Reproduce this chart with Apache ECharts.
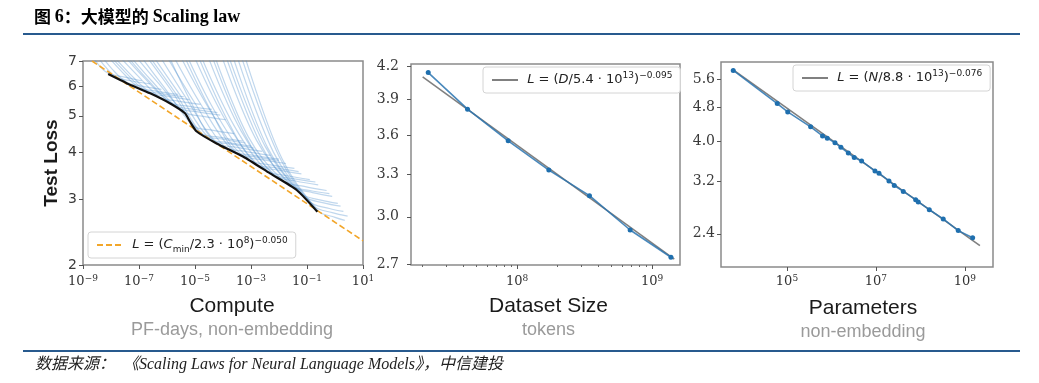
<!DOCTYPE html>
<html><head><meta charset="utf-8">
<script src="https://cdn.jsdelivr.net/npm/echarts@6/dist/echarts.min.js"></script>
<style>html,body{margin:0;padding:0;background:#fff}#c{width:1039px;height:383px}</style>
</head><body><div id="c"></div>
<script>
// ---------------- data ----------------
// Panel 1: Compute (PF-days) vs test loss
const computeTickExps = [-9, -7, -5, -3, -1, 1];
const computeLossTicks = [2, 3, 4, 5, 6, 7];
const frontierCompute = [7.94e-9, 3.63e-8, 2.51e-7, 1.26e-6, 4.37e-6, 6.61e-6, 1.15e-5, 5.89e-5, 5.37e-4, 4.79e-3, 4.27e-2, 2.34e-1];
const frontierLoss    = [6.46, 6.11, 5.74, 5.40, 5.08, 4.82, 4.54, 4.22, 3.89, 3.51, 3.17, 2.775];
const fitComputeX     = [2.1e-9, 10];
const fitComputeLoss  = [7.0, 2.32];
const learningCurves = [
  [[1.78e-9,7.4],[3.55e-9,6.85],[7.94e-9,6.49],[2.51e-8,6.36],[1.26e-7,6.2]],
  [[2.51e-9,7.4],[6.31e-9,6.75],[1.58e-8,6.33],[5.01e-8,6.2],[2.51e-7,6.08]],
  [[3.55e-9,7.4],[1.12e-8,6.65],[3.63e-8,6.14],[1.26e-7,6.0],[6.31e-7,5.88]],
  [[5.62e-9,7.4],[2.24e-8,6.6],[1e-7,5.95],[3.98e-7,5.82],[2.51e-6,5.7]],
  [[7.08e-9,7.4],[3.16e-8,6.55],[1.58e-7,5.86],[6.31e-7,5.73],[3.98e-6,5.62]],
  [[8.91e-9,7.4],[4.47e-8,6.5],[2.51e-7,5.77],[1e-6,5.64],[6.31e-6,5.52]],
  [[1.41e-8,7.4],[8.91e-8,6.4],[5.62e-7,5.6],[2.51e-6,5.47],[1.58e-5,5.36]],
  [[2.24e-8,7.4],[1.58e-7,6.3],[1.26e-6,5.43],[6.31e-6,5.3],[3.98e-5,5.2]],
  [[2.82e-8,7.4],[2e-7,6.25],[1.78e-6,5.34],[1e-5,5.2],[6.31e-5,5.1]],
  [[3.55e-8,7.4],[2.82e-7,6.2],[2.51e-6,5.25],[1.26e-5,5.12],[7.94e-5,5.02]],
  [[5.62e-8,7.4],[5.01e-7,6.1],[4.37e-6,5.11],[2e-5,4.98],[1.26e-4,4.88]],
  [[8.91e-8,7.4],[7.94e-7,5.95],[8.91e-6,4.7],[3.98e-5,4.58],[2.51e-4,4.48]],
  [[1.41e-7,7.4],[1.41e-6,5.85],[1.58e-5,4.5],[7.94e-5,4.38],[5.01e-4,4.28]],
  [[1.78e-7,7.4],[2e-6,5.75],[2e-5,4.44],[1e-4,4.33],[6.31e-4,4.23]],
  [[2.51e-7,7.4],[2.82e-6,5.7],[3.16e-5,4.36],[1.58e-4,4.24],[1e-3,4.15]],
  [[4.47e-7,7.4],[5.01e-6,5.55],[5.89e-5,4.24],[3.16e-4,4.12],[2.51e-3,4.02]],
  [[1e-6,7.4],[7.08e-6,5.45],[4.47e-5,4.3],[2e-4,4.2],[1.26e-3,4.1]],
  [[7.94e-7,7.4],[1e-5,5.4],[1.12e-4,4.14],[6.31e-4,4.02],[5.01e-3,3.92]],
  [[1.41e-6,7.4],[1.78e-5,5.3],[2.24e-4,4.04],[1.26e-3,3.92],[1e-2,3.83]],
  [[3.55e-6,7.4],[3.98e-5,5.1],[3.16e-4,3.98],[1.58e-3,3.88],[1e-2,3.8]],
  [[2.51e-6,7.4],[3.55e-5,5.15],[4.47e-4,3.94],[2.51e-3,3.82],[1.78e-2,3.73]],
  [[4.47e-6,7.4],[6.31e-5,5.0],[8.91e-4,3.82],[5.01e-3,3.7],[3.55e-2,3.62]],
  [[1.12e-5,7.4],[1.58e-4,4.8],[1.41e-3,3.74],[7.94e-3,3.63],[5.01e-2,3.55]],
  [[7.94e-6,7.4],[1.26e-4,4.85],[1.78e-3,3.7],[1e-2,3.58],[6.31e-2,3.5]],
  [[1.41e-5,7.4],[2.51e-4,4.7],[3.55e-3,3.58],[2e-2,3.46],[1.26e-1,3.38]],
  [[3.55e-5,7.4],[5.62e-4,4.5],[5.62e-3,3.51],[3.16e-2,3.4],[2e-1,3.33]],
  [[2.51e-5,7.4],[4.47e-4,4.55],[7.08e-3,3.47],[3.98e-2,3.35],[2.51e-1,3.27]],
  [[4.47e-5,7.4],[7.94e-4,4.4],[1.41e-2,3.36],[7.94e-2,3.24],[5.01e-1,3.16]],
  [[1.12e-4,7.4],[2.24e-3,4.2],[2.51e-2,3.27],[1.26e-1,3.16],[6.31e-1,3.1]],
  [[7.94e-5,7.4],[1.58e-3,4.3],[3.16e-2,3.24],[1.58e-1,3.12],[7.94e-1,3.05]],
  [[2e-4,7.4],[3.98e-3,4.1],[7.94e-2,3.05],[3.98e-1,2.93],[1.58,2.87]],
  [[1.41e-4,7.4],[3.16e-3,4.15],[6.31e-2,3.1],[3.16e-1,2.98],[1.26,2.92]],
  [[2.82e-4,7.4],[6.31e-3,4.0],[1.26e-1,2.95],[6.31e-1,2.83],[2.0,2.78]],
  [[3.98e-4,7.4],[1e-2,3.9],[1.78e-1,2.87],[7.94e-1,2.76],[2.82,2.7]],
  [[5.37e-4,7.4],[1.26e-2,3.85],[2.51e-1,2.79],[1.0,2.68],[2.24,2.63]]
];

// Panel 2: Dataset size (tokens)
const datasetTickExps = [8, 9];
const datasetMinorTicks = [2e7,3e7,4e7,5e7,6e7,7e7,8e7,9e7,2e8,3e8,4e8,5e8,6e8,7e8,8e8,9e8];
const datasetLossTicks = [2.7, 3.0, 3.3, 3.6, 3.9, 4.2];
const datasetTokens = [2.2e7, 4.3e7, 8.6e7, 1.72e8, 3.44e8, 6.88e8, 1.38e9];
const datasetLoss   = [4.14, 3.815, 3.555, 3.33, 3.145, 2.913, 2.741];
const fitDatasetX    = [2.0e7, 1.46e9];
const fitDatasetLoss = [4.10, 2.73];

// Panel 3: Parameters (non-embedding)
const paramTickExps = [5, 7, 9];
const paramLossTicks = [2.4, 3.2, 4.0, 4.8, 5.6];
const paramCount = [6.2e3, 6.05e4, 1.04e5, 3.4e5, 6.3e5, 8.05e5, 1.2e6, 1.63e6, 2.39e6, 3.25e6, 4.76e6, 9.5e6, 1.17e7, 1.96e7, 2.58e7, 4.11e7, 7.8e7, 8.93e7, 1.58e8, 3.25e8, 7.06e8, 1.49e9];
const paramLoss  = [5.89, 4.91, 4.69, 4.32, 4.11, 4.06, 3.96, 3.86, 3.74, 3.65, 3.58, 3.39, 3.35, 3.21, 3.13, 3.03, 2.895, 2.86, 2.74, 2.605, 2.443, 2.348];
const fitParamX    = [6.2e3, 2.17e9];
const fitParamLoss = [5.91, 2.25];

const legendLabels = {
  fitC: ' {i|L} = ({i|C}{sub|min}/2.3 · 10{sup|8}){sup|−0.050}',
  fitD: ' {i|L} = ({i|D}/5.4 · 10{sup|13}){sup|−0.095}',
  fitN: ' {i|L} = ({i|N}/8.8 · 10{sup|13}){sup|−0.076}'
};

// ---------------- helpers ----------------
const L = Math.log10;
const pairs = (xs, ys) => xs.map((x, i) => [L(x), L(ys[i])]);
const pow10 = e => '{b|10}{s|' + String(e).replace('-', '−') + '}';

function xAxisLog(grid, minV, maxV, exps, margin, name, shift) {
  return {
    type: 'value', gridIndex: grid, min: L(minV), max: L(maxV),
    axisLine: {show: false, onZero: false}, splitLine: {show: false},
    axisTick: {show: true, customValues: exps, length: 4, lineStyle: {color: '#555', width: 1}},
    axisLabel: {customValues: exps, margin: margin, formatter: v => pow10(Math.round(v)),
      rich: {
        b: {fontFamily: 'DejaVu Serif', fontSize: 13, lineHeight: 16, color: '#333'},
        s: {fontFamily: 'DejaVu Serif', fontSize: 9, lineHeight: 9, verticalAlign: 'top', color: '#333'}
      }},
    name: name, nameLocation: 'middle', nameGap: 29,
    nameTextStyle: {padding: [0, 0, 0, shift], rich: {
      a: {fontFamily: 'Liberation Sans', fontSize: 21, lineHeight: 24, color: '#1a1a1a'},
      b: {fontFamily: 'Liberation Sans', fontSize: 18, lineHeight: 24, color: '#9a9a9a'}}}
  };
}
function yAxisLog(grid, minV, maxV, ticks, dec, margin, font, extra) {
  return Object.assign({
    type: 'value', gridIndex: grid, min: L(minV), max: L(maxV),
    axisLine: {show: false, onZero: false}, splitLine: {show: false},
    axisTick: {show: true, customValues: ticks.map(L), length: 4, lineStyle: {color: '#555', width: 1}},
    axisLabel: {customValues: ticks.map(L), margin: margin, formatter: v => Math.pow(10, v).toFixed(dec),
      fontFamily: font, fontSize: 14, color: '#3a3a3a'}
  }, extra || {});
}

const richLegend = {
  fontFamily: 'DejaVu Sans', fontSize: 13, color: '#222', lineHeight: 18,
  rich: {
    i: {fontFamily: 'DejaVu Sans', fontStyle: 'italic', fontSize: 13, color: '#222'},
    sup: {fontFamily: 'DejaVu Sans', fontSize: 9, lineHeight: 10, verticalAlign: 'top', color: '#222'},
    sub: {fontFamily: 'DejaVu Sans', fontSize: 9, lineHeight: 10, verticalAlign: 'bottom', color: '#222'}
  }
};
function legendAt(name, left, top) {
  return {
    data: [name], left: left, top: top, padding: [4, 8, 4, 8],
    itemWidth: 26, itemHeight: 14, selectedMode: false,
    backgroundColor: 'rgba(255,255,255,0.85)', borderColor: '#d4d4d4', borderWidth: 1, borderRadius: 3,
    itemStyle: {opacity: 0},
    textStyle: richLegend, formatter: n => legendLabels[n]
  };
}

// ---------------- series ----------------
const series = [];
learningCurves.forEach((c, k) => {
  series.push({type: 'line', name: 'curve' + k, xAxisIndex: 0, yAxisIndex: 0,
    data: c.map(p => [L(p[0]), L(p[1])]), showSymbol: false, symbol: 'none', smooth: 0.35,
    silent: true, z: 1, lineStyle: {color: 'rgba(80,145,205,0.36)', width: 1.2}});
});
series.push({type: 'line', name: 'fitC', xAxisIndex: 0, yAxisIndex: 0, data: pairs(fitComputeX, fitComputeLoss),
  symbol: 'none', z: 2, lineStyle: {color: '#f2a62a', width: 1.6, type: [6, 3]}, itemStyle: {color: '#f2a62a'}});
series.push({type: 'line', name: 'frontier', xAxisIndex: 0, yAxisIndex: 0, data: pairs(frontierCompute, frontierLoss),
  symbol: 'none', smooth: 0.2, z: 3, lineStyle: {color: '#111', width: 2.2}});

series.push({type: 'line', name: 'fitD', xAxisIndex: 1, yAxisIndex: 1, data: pairs(fitDatasetX, fitDatasetLoss),
  symbol: 'none', z: 2, lineStyle: {color: '#808080', width: 1.6}, itemStyle: {color: '#808080'}});
series.push({type: 'line', name: 'dataD', xAxisIndex: 1, yAxisIndex: 1, data: pairs(datasetTokens, datasetLoss),
  symbol: 'circle', symbolSize: 5, z: 3, lineStyle: {color: '#2a74b0', width: 1.6, opacity: 0.85}, itemStyle: {color: '#1f6fae'}});

series.push({type: 'line', name: 'fitN', xAxisIndex: 3, yAxisIndex: 2, data: pairs(fitParamX, fitParamLoss),
  symbol: 'none', z: 2, lineStyle: {color: '#808080', width: 1.6}, itemStyle: {color: '#808080'}});
series.push({type: 'line', name: 'dataN', xAxisIndex: 3, yAxisIndex: 2, data: pairs(paramCount, paramLoss),
  symbol: 'circle', symbolSize: 5, z: 3, lineStyle: {color: '#2a74b0', width: 1.6, opacity: 0.85}, itemStyle: {color: '#1f6fae'}});

const gridStyle = {show: true, borderColor: '#8a8a8a', borderWidth: 1.5, backgroundColor: 'transparent'};

const option = {
  animation: false,
  backgroundColor: '#fff',
  title: [
    {text: '{a|图 }{b|6}{a|：大模型的 }{b|Scaling law}', left: 34, top: 8, padding: 0,
      textStyle: {rich: {
        a: {fontFamily: 'Noto Sans CJK SC', fontWeight: 'bold', fontSize: 17, color: '#000'},
        b: {fontFamily: 'Liberation Serif', fontWeight: 'bold', fontSize: 18, color: '#000'}}}},
    {text: '数据来源：  《Scaling Laws for Neural Language Models》，中信建投', left: 35, top: 357, padding: 0,
      textStyle: {fontFamily: "'Liberation Serif','Noto Sans CJK SC'", fontStyle: 'italic', fontWeight: 'normal', fontSize: 16, color: '#222'}}
  ],
  graphic: [
    {type: 'line', shape: {x1: 23, y1: 34, x2: 1020, y2: 34}, style: {stroke: '#285a8e', lineWidth: 2}},
    {type: 'line', shape: {x1: 23, y1: 351, x2: 1020, y2: 351}, style: {stroke: '#285a8e', lineWidth: 2}}
  ],
  grid: [
    Object.assign({left: 83, top: 61, width: 280, height: 204}, gridStyle),
    Object.assign({left: 411, top: 64, width: 269, height: 201}, gridStyle),
    Object.assign({left: 721, top: 62, width: 272, height: 205}, gridStyle)
  ],
  xAxis: [
    xAxisLog(0, 1e-9, 10, computeTickExps, 9, '{a|Compute}\n{b|PF-days, non-embedding}', 18),
    xAxisLog(1, 1.64e7, 1.61e9, datasetTickExps, 9, '{a|Dataset Size}\n{b|tokens}', 6),
    {type: 'value', gridIndex: 1, min: L(1.64e7), max: L(1.61e9), position: 'bottom',
      axisLine: {show: false, onZero: false}, splitLine: {show: false}, axisLabel: {show: false},
      axisTick: {show: true, customValues: datasetMinorTicks.map(L), length: 2, lineStyle: {color: '#666'}}},
    xAxisLog(2, 3.29e3, 4.27e9, paramTickExps, 7, '{a|Parameters}\n{b|non-embedding}', 12)
  ],
  yAxis: [
    yAxisLog(0, 2, 7, computeLossTicks, 0, 6, 'DejaVu Sans', {
      name: 'Test Loss', nameLocation: 'middle', nameGap: 22,
      nameTextStyle: {fontFamily: 'Liberation Sans', fontWeight: 'bold', fontSize: 19, color: '#1a1a1a', padding: [0, 0, 0, 0]}}),
    yAxisLog(1, 2.694, 4.22, datasetLossTicks, 1, 12, 'DejaVu Serif'),
    yAxisLog(2, 2.0, 6.17, paramLossTicks, 1, 6, 'DejaVu Serif')
  ],
  legend: [legendAt('fitC', 88, 232), legendAt('fitD', 483, 67), legendAt('fitN', 793, 65)],
  series: series
};

const chart = echarts.init(document.getElementById('c'), null, {renderer: 'canvas'});
chart.setOption(option);
</script>
</body></html>
